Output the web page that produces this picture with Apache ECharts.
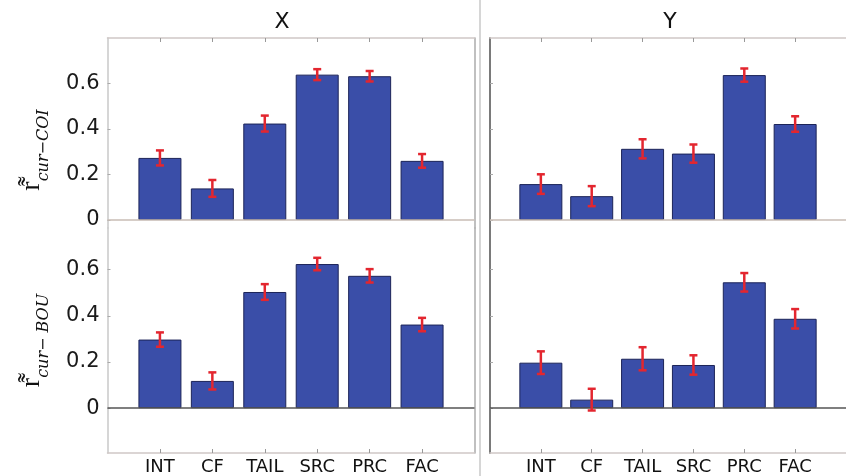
<!DOCTYPE html>
<html><head><meta charset="utf-8">
<script src="https://cdn.jsdelivr.net/npm/echarts@6/dist/echarts.min.js"></script>
<style>html,body{margin:0;padding:0;background:#fff}#c{width:846px;height:476px}</style>
</head><body><div id="c"></div>
<script>
const categories = ['INT', 'CF', 'TAIL', 'SRC', 'PRC', 'FAC'];
const panelTitles = ['X', 'Y'];
const yTickValues = [0, 0.2, 0.4, 0.6];
const xCoiValues = [0.273, 0.139, 0.424, 0.639, 0.632, 0.260];
const xCoiErrors = [0.033, 0.037, 0.035, 0.024, 0.023, 0.030];
const yCoiValues = [0.158, 0.105, 0.313, 0.292, 0.637, 0.422];
const yCoiErrors = [0.043, 0.044, 0.042, 0.040, 0.029, 0.034];
const xBouValues = [0.297, 0.118, 0.503, 0.624, 0.573, 0.362];
const xBouErrors = [0.031, 0.037, 0.034, 0.027, 0.029, 0.029];
const yBouValues = [0.197, 0.037, 0.214, 0.187, 0.545, 0.387];
const yBouErrors = [0.049, 0.047, 0.050, 0.042, 0.040, 0.042];

const catPositions = categories.map((c, i) => i + 1);
const chart = echarts.init(document.getElementById('c'), null, {renderer: 'canvas'});

const panels = [
  {vals: xCoiValues, errs: xCoiErrors, left: 107.5, top: 38, height: 190, min: -0.035, max: 0.8, isTop: true, isLeft: true, name: 'COI', zeroColor: '#c9bcb4'},
  {vals: yCoiValues, errs: yCoiErrors, left: 490, top: 38, height: 190, min: -0.035, max: 0.8, isTop: true, isLeft: false, zeroColor: '#c9bcb4'},
  {vals: xBouValues, errs: xBouErrors, left: 107.5, top: 228, height: 226, min: -0.194, max: 0.78, isTop: false, isLeft: true, name: 'BOU', zeroColor: '#555'},
  {vals: yBouValues, errs: yBouErrors, left: 490, top: 228, height: 226, min: -0.194, max: 0.78, isTop: false, isLeft: false, zeroColor: '#555'}
];

const grid = [], xAxis = [], yAxis = [], series = [];
panels.forEach((p, gi) => {
  grid.push({left: p.left, top: p.top, width: 367, height: p.height, containLabel: false});
  xAxis.push({
    type: 'value', gridIndex: gi, min: 0, max: 7,
    position: p.isTop ? 'top' : 'bottom',
    axisLine: {show: true, onZero: false, lineStyle: {color: '#cfc8c6', width: 1.5}},
    axisTick: {show: true, inside: true, length: 4, customValues: catPositions, lineStyle: {color: '#999'}},
    axisLabel: {show: !p.isTop, customValues: catPositions, margin: 5,
      formatter: v => categories[Math.round(v) - 1] || '',
      fontFamily: 'DejaVu Sans', fontSize: 18, color: '#111'},
    splitLine: {show: false}
  });
  const yIdx = yAxis.length;
  yAxis.push({
    type: 'value', gridIndex: gi, min: p.min, max: p.max, position: 'left',
    axisLine: {show: true, onZero: false, lineStyle: {color: p.isLeft ? '#c8c8c8' : '#7a7a7a', width: p.isLeft ? 1.5 : 2}},
    axisTick: {show: true, inside: true, length: 3, customValues: yTickValues, lineStyle: {color: '#aaa'}},
    axisLabel: {show: p.isLeft, customValues: yTickValues, margin: 8,
      formatter: v => (Math.abs(v) < 1e-9 ? '0' : String(+v.toFixed(1))),
      fontFamily: 'DejaVu Sans', fontSize: 21, color: '#1a1a1a'},
    splitLine: {show: false},
    name: p.isLeft ? '{r|r\u034C}{s|cur\u2212' + (p.name === 'BOU' ? ' ' : '') + p.name + '}' : '',
    nameLocation: 'middle', nameRotate: 90, nameGap: 56,
    nameTextStyle: {
      padding: p.isTop ? [0, 34, 0, 0] : [0, 0, 0, 0],
      rich: {
        r: {fontFamily: 'DejaVu Serif', fontSize: 28, color: '#111', verticalAlign: 'bottom', padding: [0, 0, 6, 0]},
        s: {fontFamily: 'DejaVu Serif', fontStyle: 'italic', fontSize: 16, color: '#111', verticalAlign: 'bottom'}
      }
    }
  });
  if (p.isLeft) {
    yAxis.push({
      type: 'value', gridIndex: gi, min: p.min, max: p.max, position: 'right',
      axisLine: {show: true, onZero: false, lineStyle: {color: '#ababab', width: 1.5}},
      axisTick: {show: false}, axisLabel: {show: false}, splitLine: {show: false}
    });
  }
  series.push({
    type: 'bar', xAxisIndex: gi, yAxisIndex: yIdx, barWidth: 43,
    data: p.vals.map((v, i) => [catPositions[i], v]),
    itemStyle: {color: '#3a4ea8', borderColor: '#1c2458', borderWidth: 1},
    markLine: {silent: true, symbol: 'none', label: {show: false},
      lineStyle: {color: p.zeroColor, width: 1.5, type: 'solid'},
      data: [{yAxis: 0}]},
    z: 2
  });
  series.push({
    type: 'custom', xAxisIndex: gi, yAxisIndex: yIdx, z: 5,
    data: p.vals.map((v, i) => [catPositions[i], v - p.errs[i], v + p.errs[i]]),
    encode: {x: 0, y: [1, 2]},
    renderItem: (params, api) => {
      const x = api.value(0);
      const hi = api.coord([x, api.value(2)]);
      const lo = api.coord([x, api.value(1)]);
      const w = 4;
      const st = {stroke: '#e3262f', lineWidth: 2.5};
      return {type: 'group', children: [
        {type: 'line', shape: {x1: hi[0], y1: hi[1], x2: lo[0], y2: lo[1]}, style: st},
        {type: 'line', shape: {x1: hi[0] - w, y1: hi[1], x2: hi[0] + w, y2: hi[1]}, style: st},
        {type: 'line', shape: {x1: lo[0] - w, y1: lo[1], x2: lo[0] + w, y2: lo[1]}, style: st}
      ]};
    }
  });
});

chart.setOption({
  animation: false,
  backgroundColor: '#ffffff',
  grid, xAxis, yAxis, series,
  graphic: [
    {type: 'rect', shape: {x: 479, y: 0, width: 2, height: 476}, style: {fill: '#d6d6d6'}, z: 0},
    {type: 'text', x: 282, y: 22, style: {text: panelTitles[0], fontFamily: 'DejaVu Sans', fontSize: 22, fill: '#111', align: 'center', verticalAlign: 'middle'}},
    {type: 'text', x: 670, y: 22, style: {text: panelTitles[1], fontFamily: 'DejaVu Sans', fontSize: 22, fill: '#111', align: 'center', verticalAlign: 'middle'}}
  ]
});
</script></body></html>
